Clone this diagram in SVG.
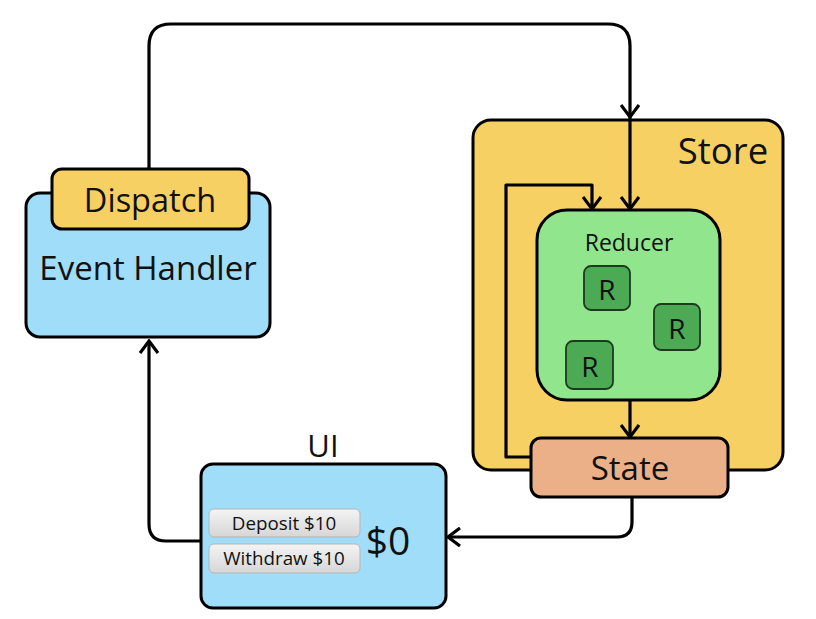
<svg xmlns="http://www.w3.org/2000/svg" width="816" height="619" viewBox="0 0 816 619">
<defs>
<marker id="arr" viewBox="-14 -10 16 20" markerWidth="16" markerHeight="20" refX="0" refY="0" orient="auto" markerUnits="userSpaceOnUse">
<path d="M-12,-9 L0,0 L-12,9" fill="none" stroke="#000" stroke-width="3.2" stroke-linejoin="miter"/>
</marker>
<linearGradient id="btn" x1="0" y1="0" x2="0" y2="1">
<stop offset="0" stop-color="#f4f4f4"/>
<stop offset="1" stop-color="#d6d6d6"/>
</linearGradient>
<style>
.t{font-family:"Open Sans","Noto Sans","Liberation Sans",sans-serif;fill:#111;text-anchor:middle;dominant-baseline:central}
.box{stroke:#000;stroke-width:3}
.c{fill:none;stroke:#000;stroke-width:3.2;stroke-linejoin:round}
.r{fill:#4CAA55;stroke:#1d3a1f;stroke-width:1.8}
.b{fill:url(#btn);stroke:#b5b5b5;stroke-width:1}
</style>
</defs>
<rect width="816" height="619" fill="#fff"/>
<g id="store">
<rect class="box" x="473" y="120" width="310" height="350" rx="18" fill="#F6D063"/>
<text class="t" x="723" y="150" font-size="36.5">Store</text>
</g>
<g id="reducer">
<rect class="box" x="537" y="210" width="183" height="190" rx="30" fill="#90E58D"/>
<text class="t" x="629" y="242" font-size="23">Reducer</text>
<rect class="r" x="584" y="266" width="46" height="44" rx="7"/>
<text class="t" x="607" y="289" font-size="28">R</text>
<rect class="r" x="654" y="304" width="46" height="46" rx="7"/>
<text class="t" x="677" y="328" font-size="28">R</text>
<rect class="r" x="566" y="341" width="47" height="48" rx="7"/>
<text class="t" x="590" y="366" font-size="28">R</text>
</g>
<g id="connectors">
<path class="c" d="M149,169 V46 Q149,24 171,24 H608 Q630,24 630,46 V117" marker-end="url(#arr)"/>
<path class="c" d="M630,117 V209" marker-end="url(#arr)"/>
<path class="c" d="M531,457 H506 V185 H592 V209" marker-end="url(#arr)"/>
<path class="c" d="M630,400 V437" marker-end="url(#arr)"/>
<path class="c" d="M632,497 V522 Q632,537 617,537 H448" marker-end="url(#arr)"/>
<path class="c" d="M201,541 H166 Q149,541 149,524 V341" marker-end="url(#arr)"/>
</g>
<g id="state">
<rect class="box" x="531" y="438" width="197" height="59" rx="10" fill="#EBB088"/>
<text class="t" x="630" y="467" font-size="33">State</text>
</g>
<g id="event-handler">
<rect class="box" x="26" y="193" width="244" height="144" rx="14" fill="#A0DDF8"/>
<text class="t" x="148" y="267" font-size="33">Event Handler</text>
</g>
<g id="dispatch">
<rect class="box" x="52" y="169" width="197" height="60" rx="10" fill="#F6D063"/>
<text class="t" x="150" y="199" font-size="32.5">Dispatch</text>
</g>
<g id="ui">
<text class="t" x="323" y="445" font-size="31">UI</text>
<rect class="box" x="201" y="464" width="245" height="144" rx="12" fill="#A0DDF8"/>
<rect class="b" x="209" y="509" width="151" height="28" rx="5"/>
<text class="t" x="284" y="523" font-size="18.8">Deposit $10</text>
<rect class="b" x="209" y="544" width="151" height="29" rx="5"/>
<text class="t" x="284" y="558" font-size="18.8">Withdraw $10</text>
<text class="t" x="388" y="539" font-size="39">$0</text>
</g>
</svg>
